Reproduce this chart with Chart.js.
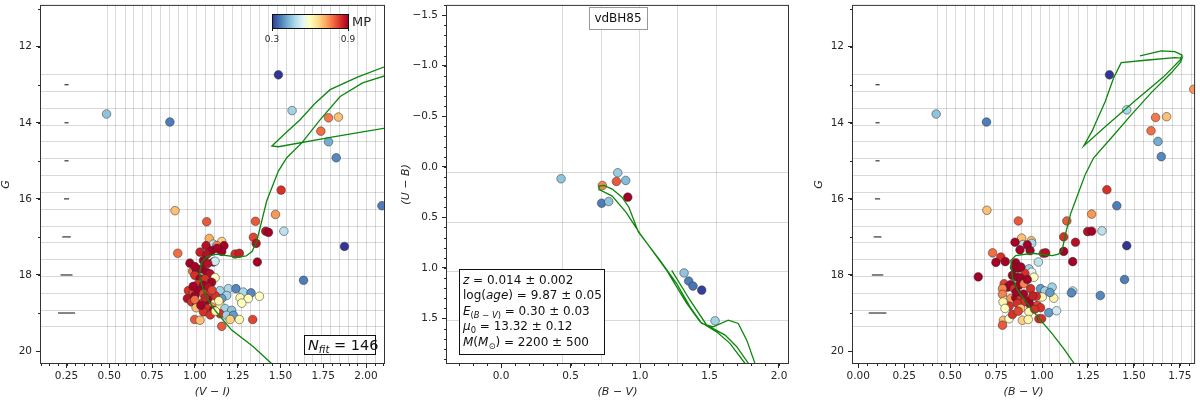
<!DOCTYPE html>
<html>
<head>
<meta charset="utf-8">
<script src="https://cdn.jsdelivr.net/npm/chart.js@4.4.0/dist/chart.umd.min.js"></script>
<style>
  body { margin: 0; background: #fff; width: 1200px; height: 401px; overflow: hidden; position: relative; }
  canvas { position: absolute; top: 0; }
</style>
</head>
<body>
<canvas id="cmdVI" width="400" height="401" style="left:0;width:400px;height:401px"></canvas>
<canvas id="ccd" width="400" height="401" style="left:400px;width:400px;height:401px"></canvas>
<canvas id="cmdBV" width="400" height="401" style="left:800px;width:400px;height:401px"></canvas>
<script>
// DATA

const gTicks = [12, 14, 16, 18, 20];
const viTicks = [0.25, 0.5, 0.75, 1.0, 1.25, 1.5, 1.75, 2.0];
const bvTicks = [0, 0.25, 0.5, 0.75, 1.0, 1.25, 1.5, 1.75];
const ccdBVTicks = [0, 0.5, 1.0, 1.5, 2.0];
const ubTicks = [-1.5, -1.0, -0.5, 0, 0.5, 1.0, 1.5];

// stars in the (V-I, G) panel
const leftVI = [0.484, 0.854, 1.488, 1.568, 1.781, 1.839, 1.736, 1.781, 1.826, 1.504, 2.093, 0.884, 1.471, 1.069, 1.354, 1.414, 1.430, 1.520, 1.874, 1.635, 0.900, 1.342, 1.365, 1.358,
  1.084, 1.157, 1.108, 1.128, 1.170, 1.065, 1.030, 1.098, 1.157, 1.069, 1.235, 1.260, 0.971, 1.108, 1.118, 0.987, 1.010, 1.040, 1.069, 1.089, 1.000, 1.030, 1.059, 1.118, 1.098, 1.020,
  1.050, 1.079, 0.962, 0.991, 1.020, 1.050, 1.089, 1.147, 1.196, 1.240, 1.283, 1.328, 1.377, 1.264, 1.312, 1.274, 1.186, 1.157, 0.956, 0.981, 1.010, 1.050, 1.079, 1.118, 1.147,
  1.098, 1.007, 1.069, 1.050, 1.108, 1.176, 1.215, 1.147, 1.186, 1.225, 0.999, 1.030, 1.206, 1.260, 1.338, 1.157,
  0.990, 1.000, 1.060, 1.120, 1.000, 1.035, 1.140, 1.090, 1.000, 1.050, 1.130, 1.075, 1.100, 1.120];
const leftG = [13.77, 13.98, 12.74, 13.68, 13.87, 13.85, 14.22, 14.50, 14.92, 15.77, 16.18, 16.31, 16.41, 16.60, 16.59, 16.85, 16.88, 16.85, 17.25, 18.14, 17.43, 17.01, 17.66, 17.17,
  17.04, 17.12, 17.19, 17.23, 17.23, 17.23, 17.40, 17.36, 17.38, 17.46, 17.45, 17.43, 17.69, 17.66, 17.64, 17.90, 17.88, 17.84, 17.93, 17.97, 18.01, 18.10, 18.10, 18.07, 18.19, 18.23,
  18.27, 18.32, 18.41, 18.45, 18.41, 18.49, 18.47, 18.41, 18.36, 18.36, 18.45, 18.47, 18.56, 18.60, 18.62, 18.74, 18.54, 18.62, 18.62, 18.71, 18.75, 18.71, 18.67, 18.74, 18.80,
  18.84, 18.86, 18.88, 18.97, 18.93, 18.88, 18.93, 19.02, 19.06, 19.06, 19.17, 19.19, 19.17, 19.17, 19.17, 19.35,
  18.30, 18.55, 18.60, 18.55, 18.65, 18.80, 18.68, 19.05, 17.78, 17.62, 17.30, 17.70, 18.40, 18.95];
const leftMP = [0.45, 0.37, 0.30, 0.47, 0.77, 0.70, 0.78, 0.42, 0.38, 0.84, 0.37, 0.70, 0.74, 0.80, 0.80, 0.88, 0.90, 0.50, 0.30, 0.37, 0.78, 0.82, 0.90, 0.88,
  0.72, 0.68, 0.50, 0.76, 0.90, 0.88, 0.86, 0.90, 0.90, 0.88, 0.84, 0.86, 0.90, 0.90, 0.52, 0.78, 0.90, 0.90, 0.90, 0.88, 0.84, 0.90, 0.84, 0.60, 0.90, 0.84,
  0.90, 0.88, 0.84, 0.82, 0.90, 0.82, 0.84, 0.47, 0.48, 0.38, 0.48, 0.38, 0.60, 0.62, 0.60, 0.60, 0.47, 0.40, 0.88, 0.84, 0.90, 0.82, 0.90, 0.60, 0.62,
  0.74, 0.70, 0.84, 0.84, 0.90, 0.47, 0.45, 0.84, 0.47, 0.40, 0.80, 0.70, 0.68, 0.62, 0.82, 0.80,
  0.90, 0.90, 0.86, 0.84, 0.78, 0.90, 0.62, 0.84, 0.90, 0.90, 0.90, 0.88, 0.82, 0.62];

// stars in the (B-V, G) panel
const rightBV = [0.424, 0.698, 1.367, 1.461, 1.618, 1.678, 1.593, 1.631, 1.649, 1.826, 1.353, 1.407, 0.700, 1.270, 0.871, 1.135, 1.248, 1.270, 1.326, 1.461, 1.449, 0.731, 0.653, 1.317, 1.167, 1.182, 1.118, 1.118,
  0.889, 0.942, 0.944, 0.897, 0.853, 0.920, 0.880, 0.935, 1.007, 1.020, 0.776, 0.749, 0.800, 0.857, 0.980, 0.929, 0.944, 0.956, 0.907, 0.850,
  0.870, 0.885, 0.839, 0.866, 0.884, 0.794, 0.812, 0.785, 0.830, 0.848, 0.875, 0.902, 0.938, 0.992, 1.016, 1.055, 1.167, 1.160, 1.001, 0.969,
  1.064, 0.785, 0.803, 0.830, 0.857, 0.884, 0.902, 0.929, 0.821, 0.866, 0.938, 0.974, 0.992, 0.884, 0.929, 1.037, 1.079, 0.790, 0.821, 0.785,
  0.893, 0.925, 0.983, 0.998, 0.839, 0.788, 0.799, 1.043, 0.860, 0.900, 0.950, 0.920, 0.960, 0.870];
const rightG = [13.77, 13.98, 12.74, 13.66, 13.86, 13.84, 14.21, 14.49, 14.89, 13.12, 15.76, 16.18, 16.30, 16.40, 16.58, 16.58, 16.86, 16.85, 16.84, 17.23, 18.12, 17.42, 18.05, 18.54, 17.65, 17.14, 17.38, 17.00,
  17.03, 17.10, 17.17, 17.20, 17.14, 17.21, 17.34, 17.36, 17.43, 17.42, 17.53, 17.67, 17.65, 17.68, 17.66, 17.84, 17.93, 18.06, 17.96, 17.80,
  17.82, 17.79, 18.01, 18.06, 18.08, 18.23, 18.32, 18.36, 18.25, 18.36, 18.27, 18.23, 18.36, 18.36, 18.42, 18.32, 18.42, 18.47, 18.58, 18.56,
  18.61, 18.51, 18.67, 18.62, 18.60, 18.58, 18.71, 18.67, 18.82, 18.75, 18.80, 18.80, 18.86, 18.88, 18.97, 18.99, 18.94, 19.19, 19.15, 19.32,
  19.19, 19.17, 19.15, 19.15, 19.04, 18.71, 18.88, 18.46, 18.45, 18.50, 18.55, 18.12, 18.90, 18.95];
const rightMP = [0.45, 0.37, 0.30, 0.48, 0.77, 0.70, 0.78, 0.42, 0.38, 0.74, 0.84, 0.37, 0.70, 0.74, 0.80, 0.80, 0.88, 0.90, 0.50, 0.30, 0.37, 0.78, 0.90, 0.38, 0.90, 0.88, 0.90, 0.84,
  0.70, 0.70, 0.48, 0.50, 0.90, 0.90, 0.90, 0.90, 0.86, 0.88, 0.84, 0.90, 0.90, 0.90, 0.50, 0.47, 0.55, 0.60, 0.84, 0.90,
  0.90, 0.90, 0.90, 0.90, 0.90, 0.82, 0.90, 0.76, 0.90, 0.84, 0.90, 0.76, 0.84, 0.40, 0.47, 0.47, 0.50, 0.38, 0.62, 0.84,
  0.62, 0.76, 0.62, 0.74, 0.90, 0.84, 0.84, 0.90, 0.84, 0.84, 0.90, 0.82, 0.84, 0.70, 0.62, 0.40, 0.52, 0.70, 0.58, 0.80,
  0.68, 0.62, 0.84, 0.84, 0.84, 0.62, 0.60, 0.40, 0.90, 0.90, 0.86, 0.90, 0.84, 0.82];

// stars in the (B-V, U-B) panel
const midBV = [0.432, 0.840, 0.897, 0.830, 0.729, 0.912, 0.724, 0.775, 1.317, 1.350, 1.381, 1.444, 1.540];
const midUB = [0.118, 0.059, 0.135, 0.145, 0.185, 0.300, 0.360, 0.343, 1.050, 1.130, 1.180, 1.220, 1.524];
const midMP = [0.45, 0.46, 0.44, 0.80, 0.76, 0.90, 0.37, 0.45, 0.45, 0.37, 0.36, 0.31, 0.47];

// best-fit isochrone
const isoVI = [1.470, 1.451, 1.340, 1.215, 1.166, 1.118, 1.079, 1.050, 1.034, 1.030, 1.040, 1.069, 1.128, 1.186, 1.250, 1.300, 1.335, 1.362, 1.391, 1.420,
  1.488, 1.537, 1.625, 1.730, 1.849, 1.980, 2.113, 2.400, 2.500, 2.500, 2.113, 1.800, 1.488, 1.450, 1.535, 1.615, 1.700, 1.790, 1.950, 2.113, 2.400];
const isoVIG = [20.45, 20.34, 19.88, 19.45, 19.19, 18.93, 18.67, 18.41, 18.14, 17.88, 17.66, 17.52, 17.45, 17.49, 17.53, 17.50, 17.38, 17.10, 16.58, 16.05,
  15.27, 14.92, 14.53, 13.93, 13.31, 12.95, 12.76, 12.50, 12.30, 13.84, 14.14, 14.38, 14.63, 14.61, 14.25, 13.92, 13.50, 13.13, 12.80, 12.52, 12.20];
const isoBV = [1.190, 1.178, 1.120, 1.055, 0.947, 0.866, 0.839, 0.830, 0.857, 0.947, 1.055, 1.090, 1.109, 1.128, 1.155, 1.182, 1.236, 1.281, 1.380, 1.488,
  1.596, 1.705, 1.755, 1.762, 1.660, 1.500, 1.350, 1.227, 1.272, 1.344, 1.389, 1.431, 1.578, 1.723, 1.755, 1.762, 1.723, 1.650, 1.533];
const isoBVG = [20.45, 20.35, 19.95, 19.54, 18.93, 18.40, 18.06, 17.62, 17.49, 17.43, 17.49, 17.45, 17.36, 16.92, 16.40, 16.05, 15.35, 14.92, 14.38, 13.78,
  13.20, 12.68, 12.40, 12.30, 12.80, 13.45, 14.08, 14.61, 14.22, 13.44, 12.83, 12.42, 12.35, 12.29, 12.30, 12.22, 12.13, 12.11, 12.24];
const isoCCBV = [1.770, 1.755, 1.647, 1.551, 1.432, 1.336, 1.192, 1.000, 0.900, 0.800, 0.708, 0.705, 0.740, 0.800, 0.870, 0.920, 0.988, 1.144, 1.264, 1.360,
  1.444, 1.527, 1.635, 1.707, 1.768, 1.827, 1.840, 1.790, 1.780, 1.696, 1.612, 1.480, 1.360, 1.228];
const isoCCUB = [2.050, 1.945, 1.747, 1.633, 1.534, 1.352, 1.024, 0.661, 0.450, 0.290, 0.227, 0.190, 0.185, 0.220, 0.300, 0.400, 0.645, 0.925, 1.155, 1.386,
  1.550, 1.583, 1.517, 1.550, 1.715, 1.945, 2.050, 2.050, 1.945, 1.780, 1.665, 1.567, 1.320, 1.024];

// photometric errors per magnitude
const errG = [13, 14, 15, 16, 17, 18, 19];
const errVI = [0.012, 0.012, 0.012, 0.015, 0.025, 0.035, 0.050];
const errBV = [0.011, 0.011, 0.011, 0.014, 0.021, 0.031, 0.048];

// fit grid lines
const gridVI = [0.484, 0.536, 0.589, 0.641, 0.693, 0.746, 0.798, 0.850, 0.902, 0.955, 1.007, 1.059, 1.112, 1.164, 1.216, 1.269, 1.321, 1.373, 1.425, 1.478,
  1.530, 1.582, 1.635, 1.687, 1.739, 1.792, 1.844, 1.896, 1.948, 2.001, 2.053];
const gridBV = [0.426, 0.477, 0.528, 0.580, 0.631, 0.682, 0.733, 0.784, 0.836, 0.887, 0.938, 0.989, 1.040, 1.092, 1.143, 1.194, 1.245, 1.296, 1.348, 1.399,
  1.450, 1.501, 1.552, 1.604, 1.655, 1.706, 1.757, 1.808];
const gridG = [12.72, 13.16, 13.61, 14.05, 14.49, 14.93, 15.37, 15.82, 16.26, 16.70, 17.14, 17.58, 18.03, 18.47, 18.91, 19.35];
const gridCCBV = [0.438, 0.717, 0.993, 1.268, 1.545];
const gridCCUB = [0.055, 0.542, 1.029, 1.516];

const MP_MIN = 0.3, MP_MAX = 0.9;

// HELPERS

const FONT = '"DejaVu Sans", sans-serif';
const ISO = '#0b870b';
const INK = '#262626';
const RDYLBU_R = ['#313695', '#4575b4', '#74add1', '#abd9e9', '#e0f3f8', '#ffffbf', '#fee090', '#fdae61', '#f46d43', '#d73027', '#a50026'];

function hex(c) { return [1, 3, 5].map(i => parseInt(c.slice(i, i + 2), 16)); }

function mpColor(mp) {
  const t = Math.min(1, Math.max(0, (mp - MP_MIN) / (MP_MAX - MP_MIN))) * 10;
  const i = Math.min(9, Math.floor(t)), f = t - i;
  const a = hex(RDYLBU_R[i]), b = hex(RDYLBU_R[i + 1]);
  return 'rgb(' + a.map((v, k) => Math.round(v + (b[k] - v) * f)).join(',') + ')';
}

const pts = (xs, ys) => xs.map((x, i) => ({ x, y: ys[i] }));

function starSet(xs, ys, mp) {
  return {
    data: pts(xs, ys), order: 1, pointRadius: 4.3,
    pointBackgroundColor: mp.map(mpColor),
    pointBorderColor: 'rgba(45,45,45,0.85)', pointBorderWidth: 0.6
  };
}

function isoSet(xs, ys) {
  return { data: pts(xs, ys), order: 0, showLine: true, borderColor: ISO, borderWidth: 1.3, pointRadius: 0, tension: 0 };
}

function errSets(center, half) {
  return errG.map((g, i) => ({
    data: [{ x: center - half[i], y: g }, { x: center + half[i], y: g }],
    order: 2, showLine: true, borderColor: '#333', borderWidth: 1.2, pointRadius: 0
  }));
}

function axis(pos, min, max, ticks, fmt, title, size, reverse) {
  return {
    type: 'linear', position: pos, min, max, reverse: !!reverse,
    afterBuildTicks: s => { s.ticks = ticks.map(v => ({ value: v })); },
    afterFit: s => {
      if (pos === 'left') s.width = size; else s.height = size;
      s.paddingTop = s.paddingBottom = s.paddingLeft = s.paddingRight = 0;
    },
    grid: { drawOnChartArea: false, drawTicks: true, tickLength: 4, color: INK, lineWidth: 1 },
    border: { display: false },
    ticks: { callback: fmt, color: INK, font: { family: FONT, size: 10.5 }, padding: pos === 'left' ? 4 : 2, maxRotation: 0, autoSkip: false },
    title: { display: true, text: title, color: INK, font: { family: FONT, size: 11, style: 'italic' }, padding: pos === 'left' ? { top: 0, bottom: 0 } : { top: 0, bottom: 2 } }
  };
}

const fmt = d => v => (v < 0 ? '\u2212' : '') + Math.abs(v).toFixed(d);

function line(ctx, x1, y1, x2, y2) { ctx.beginPath(); ctx.moveTo(x1, y1); ctx.lineTo(x2, y2); ctx.stroke(); }

function richText(ctx, x, y, segs, size) {
  segs.forEach(([t, f]) => {
    const sub = f.includes('s');
    const fs = sub ? size * 0.7 : size;
    ctx.font = (f.includes('i') ? 'italic ' : '') + fs + 'px ' + FONT;
    ctx.fillText(t, x, y + (sub ? size * 0.24 : 0));
    x += ctx.measureText(t).width;
  });
  return x;
}

function box(ctx, x, y, w, h, color) {
  ctx.fillStyle = '#fff'; ctx.fillRect(x, y, w, h);
  ctx.strokeStyle = color; ctx.lineWidth = 1; ctx.strokeRect(x + 0.5, y + 0.5, w, h);
}

// grid, frame, minor ticks and annotations
function decor(cfg) {
  return {
    id: 'decor',
    beforeDatasetsDraw(chart) {
      const { ctx, chartArea: a, scales: { x, y } } = chart;
      ctx.save();
      ctx.beginPath(); ctx.rect(a.left, a.top, a.right - a.left, a.bottom - a.top); ctx.clip();
      ctx.lineWidth = 1; ctx.strokeStyle = 'rgba(0,0,0,0.15)';
      cfg.vGrid.forEach(v => { const p = Math.round(x.getPixelForValue(v)) + 0.5; line(ctx, p, a.top, p, a.bottom); });
      cfg.hGrid.forEach(v => { const p = Math.round(y.getPixelForValue(v)) + 0.5; line(ctx, a.left, p, a.right, p); });
      ctx.restore();
    },
    afterDraw(chart) {
      const { ctx, chartArea: a, scales: { x, y } } = chart;
      ctx.save();
      ctx.strokeStyle = INK; ctx.lineWidth = 1;
      for (let i = Math.ceil(x.min / cfg.xMinor - 1e-9); i * cfg.xMinor <= x.max; i++) {
        const p = Math.round(x.getPixelForValue(i * cfg.xMinor)) + 0.5;
        line(ctx, p, a.bottom, p, a.bottom + 2);
      }
      for (let i = Math.ceil(y.min / cfg.yMinor - 1e-9); i * cfg.yMinor <= y.max; i++) {
        const p = Math.round(y.getPixelForValue(i * cfg.yMinor)) + 0.5;
        line(ctx, a.left - 2, p, a.left, p);
      }
      ctx.strokeStyle = '#333';
      ctx.strokeRect(a.left + 0.5, a.top + 0.5, a.right - a.left - 1, a.bottom - a.top - 1);
      if (cfg.extra) cfg.extra(ctx, a);
      ctx.restore();
    }
  };
}

function baseOptions(pad, xAxis, yAxis) {
  return {
    responsive: false, animation: false, events: [],
    layout: { padding: pad },
    plugins: { legend: { display: false }, tooltip: { enabled: false } },
    scales: { x: xAxis, y: yAxis }
  };
}

// LEFT PANEL: G vs (V-I)
new Chart(document.getElementById('cmdVI'), {
  type: 'scatter',
  data: { datasets: [isoSet(isoVI, isoVIG), starSet(leftVI, leftG, leftMP), ...errSets(0.25, errVI)] },
  options: baseOptions({ left: 0, right: 15, top: 3, bottom: 0 },
    axis('bottom', 0.095, 2.111, viTicks, fmt(2), '(V \u2212 I)', 37),
    axis('left', 10.902, 20.34, gTicks, fmt(0), 'G', 40, true)),
  plugins: [decor({
    vGrid: gridVI, hGrid: gridG, xMinor: 0.05, yMinor: 1,
    extra(ctx) {
      // colour bar
      const cx = 272, cy = 14, cw = 76, ch = 14;
      const grad = ctx.createLinearGradient(cx, 0, cx + cw, 0);
      RDYLBU_R.forEach((c, i) => grad.addColorStop(i / 10, c));
      ctx.fillStyle = grad; ctx.fillRect(cx, cy, cw, ch);
      ctx.strokeStyle = '#111'; ctx.lineWidth = 1;
      ctx.strokeRect(cx + 0.5, cy + 0.5, cw, ch);
      line(ctx, cx + 0.5, cy + ch, cx + 0.5, cy + ch + 3);
      line(ctx, cx + cw + 0.5, cy + ch, cx + cw + 0.5, cy + ch + 3);
      ctx.fillStyle = INK; ctx.font = '9px ' + FONT; ctx.textAlign = 'center'; ctx.textBaseline = 'middle';
      ctx.fillText(MP_MIN.toFixed(1), cx, 40);
      ctx.fillText(MP_MAX.toFixed(1), cx + cw, 40);
      ctx.textAlign = 'left'; ctx.font = '13px ' + FONT;
      ctx.fillText('MP', 352, 23);
      // N fit box
      box(ctx, 304, 335, 71, 19, '#111');
      ctx.fillStyle = '#111'; ctx.textBaseline = 'alphabetic';
      richText(ctx, 308, 350, [['N', 'i'], ['fit', 'si'], [' = 146', '']], 14.5);
    }
  })]
});

// MIDDLE PANEL: (U-B) vs (B-V)
new Chart(document.getElementById('ccd'), {
  type: 'scatter',
  data: { datasets: [isoSet(isoCCBV, isoCCUB), starSet(midBV, midUB, midMP)] },
  options: baseOptions({ left: 0, right: 11, top: 4, bottom: 0 },
    axis('bottom', -0.396, 2.072, ccdBVTicks, fmt(1), '(B \u2212 V)', 37),
    axis('left', -1.602, 1.951, ubTicks, fmt(1), '(U \u2212 B)', 46, true)),
  plugins: [decor({
    vGrid: gridCCBV, hGrid: gridCCUB, xMinor: 0.1, yMinor: 0.1,
    extra(ctx) {
      box(ctx, 189, 7, 58, 22, '#999');
      ctx.fillStyle = '#111'; ctx.font = '12px ' + FONT; ctx.textAlign = 'center'; ctx.textBaseline = 'middle';
      ctx.fillText('vdBH85', 218, 18.5);
      box(ctx, 59, 269, 145, 85, '#111');
      ctx.fillStyle = '#111'; ctx.textAlign = 'left'; ctx.textBaseline = 'alphabetic';
      const lines = [
        [['z', 'i'], [' = 0.014 \u00b1 0.002', '']],
        [['log(', ''], ['age', 'i'], [') = 9.87 \u00b1 0.05', '']],
        [['E', 'i'], ['(', 's'], ['B', 'si'], [' \u2212 ', 's'], ['V', 'si'], [')', 's'], [' = 0.30 \u00b1 0.03', '']],
        [['\u03bc', 'i'], ['0', 's'], [' = 13.32 \u00b1 0.12', '']],
        [['M', 'i'], ['(', ''], ['M', 'i'], ['\u2299', 's'], [') = 2200 \u00b1 500', '']]
      ];
      lines.forEach((segs, i) => richText(ctx, 63, 283.5 + i * 15.6, segs, 12));
    }
  })]
});

// RIGHT PANEL: G vs (B-V)
new Chart(document.getElementById('cmdBV'), {
  type: 'scatter',
  data: { datasets: [isoSet(isoBV, isoBVG), starSet(rightBV, rightG, rightMP), ...errSets(0.105, errBV)] },
  options: baseOptions({ left: 13, right: 3, top: 3, bottom: 0 },
    axis('bottom', -0.034, 1.833, bvTicks, fmt(2), '(B \u2212 V)', 37),
    axis('left', 10.902, 20.34, gTicks, fmt(0), 'G', 39, true)),
  plugins: [decor({ vGrid: gridBV, hGrid: gridG, xMinor: 0.05, yMinor: 1 })]
});
</script>
</body>
</html>
